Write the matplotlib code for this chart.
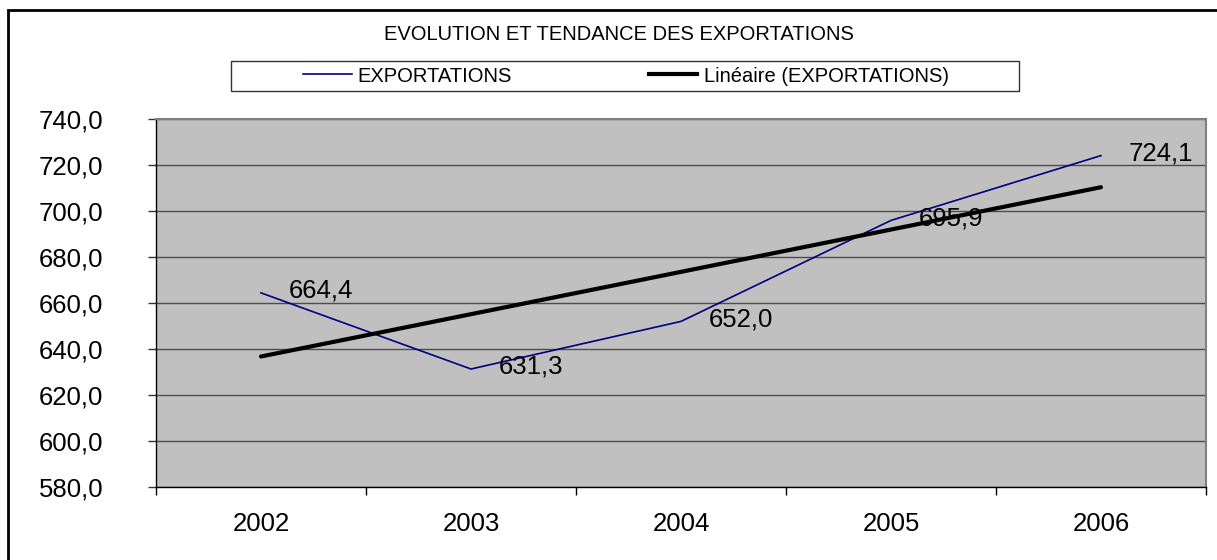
import numpy as np
import matplotlib
matplotlib.use("Agg")
import matplotlib.pyplot as plt
import matplotlib.ticker as mtick
from matplotlib.lines import Line2D
from matplotlib.patches import Rectangle

years = ["2002", "2003", "2004", "2005", "2006"]
exports = [664.4, 631.3, 652.0, 695.9, 724.1]

title = "EVOLUTION ET TENDANCE DES EXPORTATIONS"
series_name = "EXPORTATIONS"
trend_name = "Linéaire (EXPORTATIONS)"

plt.rcParams["font.family"] = ["Liberation Sans", "DejaVu Sans"]

W, H = 1217, 560
fig = plt.figure(figsize=(W / 100, H / 100), dpi=100)
ax = fig.add_axes([156 / W, 1 - 487 / H, 1050 / W, 368 / H])

x = np.arange(len(years))

# linear trend, as Excel computes it
coef = np.polyfit(x, exports, 1)
trend = np.polyval(coef, x)

ax.set_facecolor("#C0C0C0")
ax.plot(x, exports, color="#000080", lw=1.2, zorder=3)
ax.plot(x, trend, color="black", lw=3.0, solid_capstyle="round", zorder=4)

for xi, v in zip(x, exports):
    ax.annotate(f"{v:.1f}".replace(".", ","), (xi, v), xytext=(20, 1.5),
                textcoords="offset points", ha="left", va="center",
                fontsize=18.5, color="black", zorder=5)

ax.set_xlim(-0.5, len(years) - 0.5)
ax.set_ylim(580, 740)
ax.yaxis.set_major_locator(mtick.MultipleLocator(20))
ax.yaxis.set_major_formatter(mtick.FuncFormatter(lambda v, p: f"{v:.1f}".replace(".", ",")))
ax.grid(axis="y", color="#4d4d4d", lw=1.0, zorder=1)
ax.set_axisbelow(True)

ax.set_xticks(np.arange(len(years) + 1) - 0.5)
ax.set_xticklabels([])
ax.set_xticks(x, minor=True)
ax.set_xticklabels(years, minor=True)
ax.tick_params(axis="x", which="major", direction="out", length=5.8, width=1, color="black")
ax.tick_params(axis="x", which="minor", length=0, pad=18, labelsize=18.5)
ax.tick_params(axis="y", direction="out", length=5.8, width=1, color="#333333",
               pad=32, labelsize=18.5)

for side in ["top", "right"]:
    ax.spines[side].set_color("#808080")
    ax.spines[side].set_linewidth(1.5)
for side in ["left", "bottom"]:
    ax.spines[side].set_color("black")
    ax.spines[side].set_linewidth(1.0)

fig.text(619 / W, 1 - 34 / H, title, ha="center", va="center", fontsize=14.5)

# legend box
fig.patches.append(Rectangle((231 / W, 1 - 91 / H), 788 / W, 30 / H,
                             transform=fig.transFigure, fill=False,
                             edgecolor="#333333", lw=1.0))
handles = [Line2D([], [], color="#000080", lw=1.2),
           Line2D([], [], color="black", lw=3.0)]
fig.legend(handles, [series_name, trend_name], loc="center",
           bbox_to_anchor=(626 / W, 1 - 76 / H), ncol=2, frameon=False,
           fontsize=14.5, handlelength=2.4, handletextpad=0.3, columnspacing=6.8)

# outer chart border
fig.patches.append(Rectangle((8 / W, -0.05), 1.2, 1 - 10 / H + 0.05,
                             transform=fig.transFigure, fill=False,
                             edgecolor="black", lw=2.0))

fig.savefig("out.png", dpi=100)
